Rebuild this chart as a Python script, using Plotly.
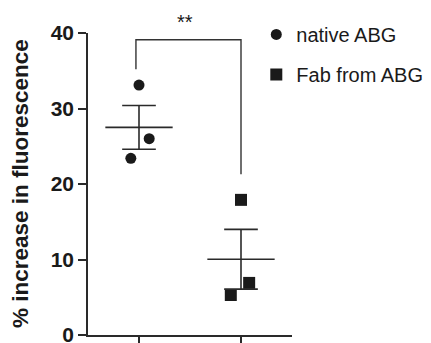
import numpy as np
import plotly.graph_objects as go

groups = ["native ABG", "Fab from ABG"]
group_x = [1, 2]
native_x = [1.0, 1.1, 0.92]
native_y = [33.1, 26.0, 23.4]
fab_x = [2.0, 2.08, 1.9]
fab_y = [17.9, 6.9, 5.3]
y_ticks = [0, 10, 20, 30, 40]
bracket_left_x = 0.97
bracket_right_x = 2.0
bracket_top = 39.1
bracket_left_bottom = 35.2
bracket_right_bottom = 21.3
sig_label = "**"

ink = "#1a1a1a"
line_c = "#2a2a2a"

fig = go.Figure()

fig.add_trace(go.Scatter(x=native_x, y=native_y, mode="markers", name=groups[0],
                         legendgroup="a",
                         marker=dict(symbol="circle", size=11, color=ink)))
fig.add_trace(go.Scatter(x=fab_x, y=fab_y, mode="markers", name=groups[1],
                         legendgroup="b",
                         marker=dict(symbol="square", size=12, color=ink)))

for gx, vals in zip(group_x, [native_y, fab_y]):
    v = np.array(vals)
    m = v.mean()
    sem = v.std(ddof=1) / np.sqrt(len(v))
    fig.add_trace(go.Scatter(x=[gx - 0.33, gx + 0.33], y=[m, m], mode="lines",
                             line=dict(color=line_c, width=1.6), showlegend=False, hoverinfo="skip"))
    fig.add_trace(go.Scatter(x=[gx, gx], y=[m - sem, m + sem], mode="lines",
                             line=dict(color=line_c, width=1.6), showlegend=False, hoverinfo="skip"))
    for yy in (m - sem, m + sem):
        fig.add_trace(go.Scatter(x=[gx - 0.165, gx + 0.165], y=[yy, yy], mode="lines",
                                 line=dict(color=line_c, width=1.6), showlegend=False, hoverinfo="skip"))

fig.add_trace(go.Scatter(x=[bracket_left_x, bracket_left_x, bracket_right_x, bracket_right_x],
                         y=[bracket_left_bottom, bracket_top, bracket_top, bracket_right_bottom],
                         mode="lines", line=dict(color="#333333", width=1.4),
                         showlegend=False, hoverinfo="skip", cliponaxis=False))

fig.add_annotation(x=1.45, y=1.035, xref="x", yref="paper", text=sig_label, showarrow=False,
                   xanchor="center", yanchor="middle",
                   font=dict(family="Liberation Sans, Arial", size=20, color=ink))

fig.add_annotation(x=0, y=0.5, xref="paper", yref="paper", xshift=-68,
                   text="<b>% increase in fluorescence</b>", textangle=-90, showarrow=False,
                   xanchor="center", yanchor="middle",
                   font=dict(family="Liberation Sans, Arial", size=22.5, color=ink))

# The page body has an 8px default margin, so the figure is sized/offset to compensate.
fig.update_layout(
    width=423, height=335,
    margin=dict(l=80, r=139, t=25, b=8, autoexpand=False),
    paper_bgcolor="white", plot_bgcolor="white",
    showlegend=True,
    legend=dict(x=0.825, y=1.06, xanchor="left", yanchor="top",
                font=dict(family="Liberation Sans, Arial", size=20, color=ink),
                tracegroupgap=11, itemwidth=30, bgcolor="rgba(0,0,0,0)"),
    xaxis=dict(range=[0.5, 2.5], tickvals=group_x, ticktext=["", ""],
               showgrid=False, zeroline=False, showline=True, linecolor=line_c, linewidth=1.6,
               ticks="outside", ticklen=9, tickwidth=1.6, tickcolor=line_c, automargin=False),
    yaxis=dict(range=[0, 40], tickvals=y_ticks, showgrid=False, zeroline=False,
               showline=True, linecolor=line_c, linewidth=1.6, automargin=False,
               ticks="outside", ticklen=8, tickwidth=1.6, tickcolor=line_c,
               ticklabeloverflow="allow",
               tickfont=dict(family="Liberation Sans, Arial", size=21, color=ink, weight="bold")),
)

fig.write_html("out.html")
